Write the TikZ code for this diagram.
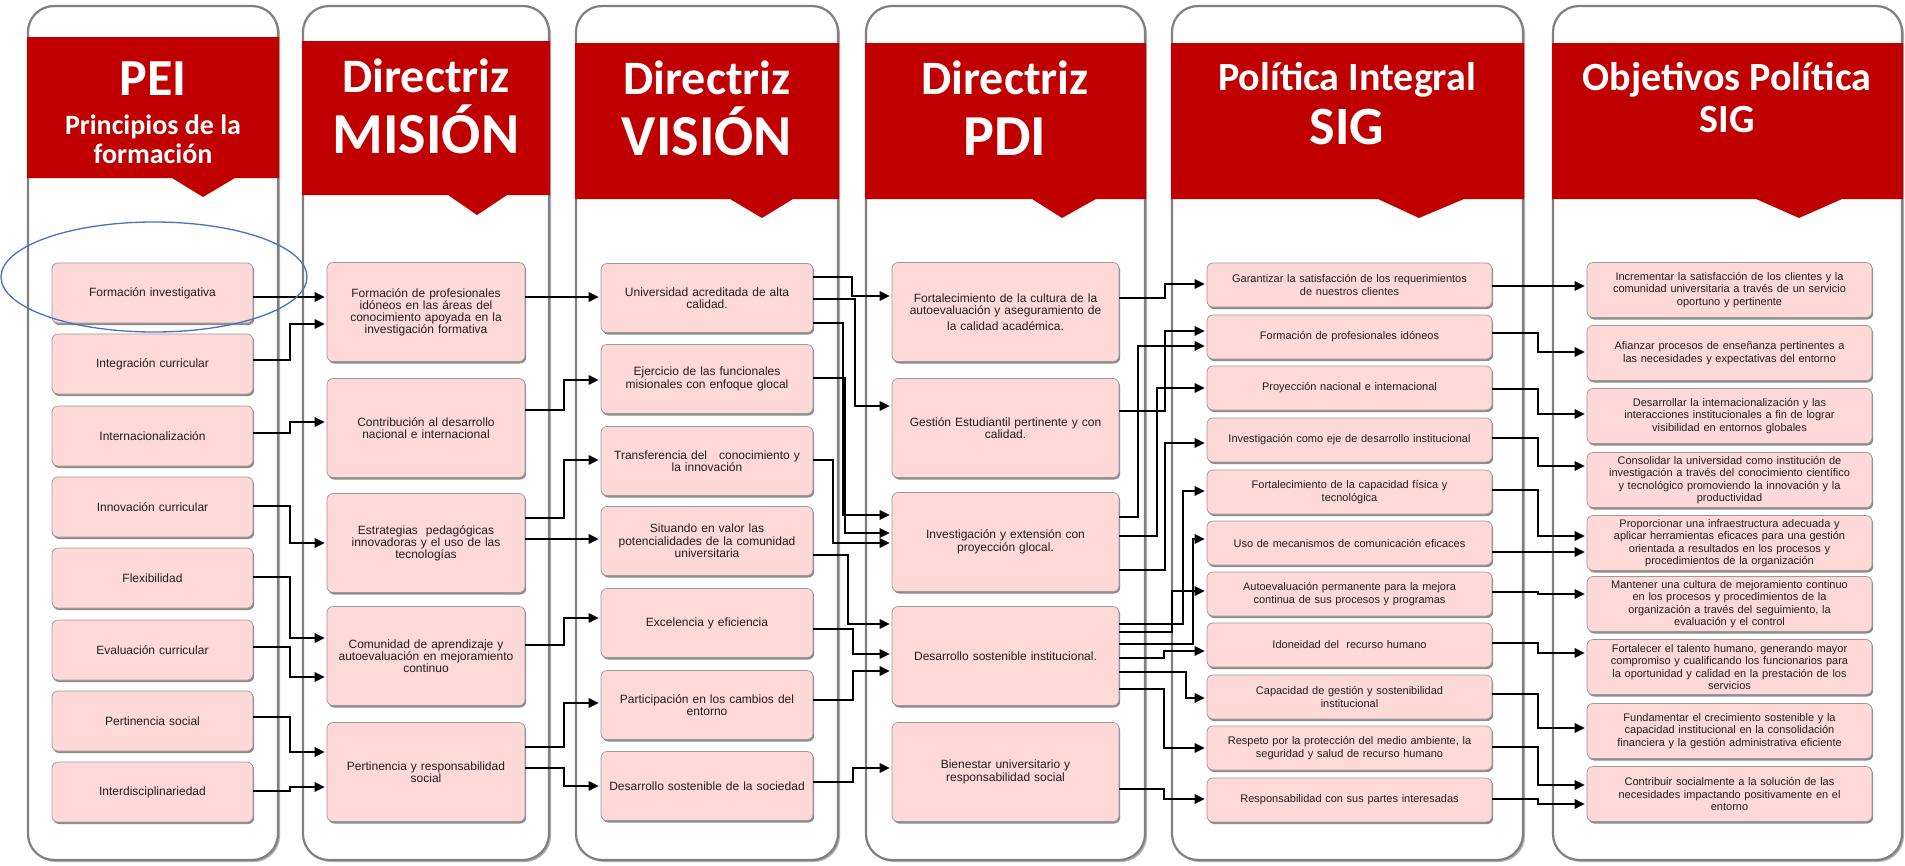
\documentclass[tikz,border=0pt]{standalone}
\usepackage{fontspec}
\setmainfont{Liberation Sans}
\newfontfamily\hdrfont{Carlito}
\usetikzlibrary{arrows.meta,shadows,shapes.geometric}
\definecolor{hdrred}{RGB}{192,0,0}
\definecolor{boxpink}{RGB}{255,216,216}
\definecolor{ellblue}{RGB}{68,114,196}
\begin{document}
\begin{tikzpicture}[x=1pt,y=-1pt,
  panel/.style={fill=white, draw=black!50, line width=2.2pt, rounded corners=26pt,
    drop shadow={shadow xshift=2pt, shadow yshift=-2pt, fill=black!50, opacity=0.6}},
  hdr/.style={fill=hdrred, draw=none},
  htxt/.style={text=white, anchor=base, inner sep=0pt},
  box/.style={draw=black!40, line width=0.7pt, fill=boxpink, rounded corners=6pt,
    drop shadow={shadow xshift=1.2pt, shadow yshift=-2pt, fill=black!60, opacity=0.75},
    align=center, inner sep=2pt, text=black!88},
  cola/.style={box, minimum width=201pt, minimum height=60pt, text width=196pt, font=\fontsize{12}{12.5}\selectfont},
  colb/.style={box, minimum width=198pt, minimum height=99pt, text width=194pt, font=\fontsize{12}{12}\selectfont},
  colc/.style={box, minimum width=212pt, minimum height=69pt, text width=208pt, font=\fontsize{12}{12.5}\selectfont},
  cold/.style={box, minimum width=227pt, minimum height=99pt, text width=223pt, font=\fontsize{12}{12.5}\selectfont},
  cole/.style={box, minimum width=285pt, minimum height=44pt, text width=281pt, font=\fontsize{11}{12.3}\selectfont},
  colf/.style={box, minimum width=285pt, minimum height=55pt, text width=281pt, font=\fontsize{11}{12.3}\selectfont},
  arr/.style={-{Triangle[length=10pt,width=9.5pt]}, line width=1.6pt, black, shorten >=2pt},
  hl/.style={draw=ellblue, line width=1.3pt, ellipse, fill=none}
]
\useasboundingbox (0,0) rectangle (1905,865);
\fill[white] (0,0) rectangle (1905,865);

% panels
\path[panel] (28,6) rectangle (278,860);
\path[panel] (303,6) rectangle (549,860);
\path[panel] (576,6) rectangle (838,860);
\path[panel] (866,6) rectangle (1145,860);
\path[panel] (1172,6) rectangle (1523,860);
\path[panel] (1553,6) rectangle (1902,860);

% headers
\fill[hdr] (27,37) -- (279,37) -- (279,178) -- (235,178) -- (203,197) -- (172,178) -- (27,178) -- cycle;
\fill[hdr] (302,41) -- (550,41) -- (550,195) -- (507,195) -- (477,215) -- (448,195) -- (302,195) -- cycle;
\fill[hdr] (575,43) -- (839,43) -- (839,199) -- (793,199) -- (762,218) -- (730,199) -- (575,199) -- cycle;
\fill[hdr] (865,43) -- (1146,43) -- (1146,199) -- (1096,199) -- (1062,218) -- (1032,199) -- (865,199) -- cycle;
\fill[hdr] (1171,43) -- (1524,43) -- (1524,199) -- (1464,199) -- (1419,218) -- (1378,199) -- (1171,199) -- cycle;
\fill[hdr] (1552,43) -- (1903,43) -- (1903,199) -- (1842,199) -- (1799,218) -- (1756,199) -- (1552,199) -- cycle;

% header texts
\node[htxt, font=\hdrfont\bfseries\fontsize{52}{52}\selectfont] (t1a) at (153,95) {PEI};
\node[htxt, font=\hdrfont\bfseries\fontsize{28}{28}\selectfont] (t1b) at (153,134) {Principios de la};
\node[htxt, font=\hdrfont\bfseries\fontsize{28}{28}\selectfont] (t1c) at (153,163) {formación};
\node[htxt, font=\hdrfont\bfseries\fontsize{48}{48}\selectfont] (t2a) at (426,92) {Directriz};
\node[htxt, font=\hdrfont\bfseries\fontsize{58}{58}\selectfont] (t2b) at (426,153) {MISIÓN};
\node[htxt, font=\hdrfont\bfseries\fontsize{48}{48}\selectfont] (t3a) at (707,94) {Directriz};
\node[htxt, font=\hdrfont\bfseries\fontsize{58}{58}\selectfont] (t3b) at (707,155) {VISIÓN};
\node[htxt, font=\hdrfont\bfseries\fontsize{48}{48}\selectfont] (t4a) at (1005,94) {Directriz};
\node[htxt, font=\hdrfont\bfseries\fontsize{58}{58}\selectfont] (t4b) at (1005,155) {PDI};
\node[htxt, font=\hdrfont\bfseries\fontsize{40}{40}\selectfont] (t5a) at (1347,90) {Política Integral};
\node[htxt, font=\hdrfont\bfseries\fontsize{54}{54}\selectfont] (t5b) at (1347,144) {SIG};
\node[htxt, font=\hdrfont\bfseries\fontsize{40}{40}\selectfont] (t6a) at (1727,90) {Objetivos Política};
\node[htxt, font=\hdrfont\bfseries\fontsize{40}{40}\selectfont] (t6b) at (1727,132) {SIG};

% column 1
\node[cola] (a1) at (152.5,293) {Formación investigativa};
\node[cola] (a2) at (152.5,364) {Integración curricular};
\node[cola] (a3) at (152.5,436) {Internacionalización};
\node[cola] (a4) at (152.5,507) {Innovación curricular};
\node[cola] (a5) at (152.5,578) {Flexibilidad};
\node[cola] (a6) at (152.5,650) {Evaluación curricular};
\node[cola] (a7) at (152.5,721) {Pertinencia social};
\node[cola] (a8) at (152.5,792) {Interdisciplinariedad};

% column 2
\node[colb] (b1) at (426,312) {Formación de profesionales\\ idóneos en las áreas del\\ conocimiento apoyada en la\\ investigación formativa};
\node[colb] (b2) at (426,428) {Contribución al desarrollo\\ nacional e internacional};
\node[colb] (b3) at (426,543) {Estrategias\ \ pedagógicas\\ innovadoras y el uso de las\\ tecnologías};
\node[colb] (b4) at (426,656) {Comunidad de aprendizaje y\\ autoevaluación en mejoramiento\\ continuo};
\node[colb] (b5) at (426,772) {Pertinencia y responsabilidad\\ social};

% column 3
\node[colc] (c1) at (707,298) {Universidad acreditada de alta\\ calidad.};
\node[colc] (c2) at (707,379) {Ejercicio de las funcionales\\ misionales con enfoque glocal};
\node[colc] (c3) at (707,461) {Transferencia del\ \ \ conocimiento y\\ la innovación};
\node[colc] (c4) at (707,541) {Situando en valor las\\ potencialidades de la comunidad\\ universitaria};
\node[colc] (c5) at (707,623) {Excelencia y eficiencia};
\node[colc] (c6) at (707,705) {Participación en los cambios del\\ entorno};
\node[colc] (c7) at (707,786) {Desarrollo sostenible de la sociedad};

% column 4
\node[cold] (d1) at (1005.5,312) {Fortalecimiento de la cultura de la\\ autoevaluación y aseguramiento de\\[3pt] la calidad académica.};
\node[cold] (d2) at (1005.5,428) {Gestión Estudiantil pertinente y con\\ calidad.};
\node[cold] (d3) at (1005.5,542) {Investigación y extensión con\\ proyección glocal.};
\node[cold] (d4) at (1005.5,656) {Desarrollo sostenible institucional.};
\node[cold] (d5) at (1005.5,772) {Bienestar universitario y\\ responsabilidad social};

% column 5
\node[cole] (e1) at (1349.5,285) {Garantizar la satisfacción de los requerimientos\\ de nuestros clientes};
\node[cole] (e2) at (1349.5,337) {Formación de profesionales idóneos};
\node[cole] (e3) at (1349.5,388) {Proyección nacional e internacional};
\node[cole] (e4) at (1349.5,440) {Investigación como eje de desarrollo institucional};
\node[cole] (e5) at (1349.5,492) {Fortalecimiento de la capacidad física y\\ tecnológica};
\node[cole] (e6) at (1349.5,543) {Uso de mecanismos de comunicación eficaces};
\node[cole] (e7) at (1349.5,594) {Autoevaluación permanente para la mejora\\ continua de sus procesos y programas};
\node[cole] (e8) at (1349.5,645) {Idoneidad del\ \ recurso humano};
\node[cole] (e9) at (1349.5,697) {Capacidad de gestión y sostenibilidad\\ institucional};
\node[cole] (e10) at (1349.5,748) {Respeto por la protección del medio ambiente, la\\ seguridad y salud de recurso humano};
\node[cole] (e11) at (1349.5,800) {Responsabilidad con sus partes interesadas};

% column 6
\node[colf] (f1) at (1729.5,290) {Incrementar la satisfacción de los clientes y la\\ comunidad universitaria a través de un servicio\\ oportuno y pertinente};
\node[colf] (f2) at (1729.5,353) {Afianzar procesos de enseñanza pertinentes a\\ las necesidades y expectativas del entorno};
\node[colf] (f3) at (1729.5,416) {Desarrollar la internacionalización y las\\ interacciones institucionales a fin de lograr\\ visibilidad en entornos globales};
\node[colf] (f4) at (1729.5,480) {Consolidar la universidad como institución de\\ investigación a través del conocimiento científico\\ y tecnológico promoviendo la innovación y la\\ productividad};
\node[colf] (f5) at (1729.5,543) {Proporcionar una infraestructura adecuada y\\ aplicar herramientas eficaces para una gestión\\ orientada a resultados en los procesos y\\ procedimientos de la organización};
\node[colf] (f6) at (1729.5,604) {Mantener una cultura de mejoramiento continuo\\ en los procesos y procedimientos de la\\ organización a través del seguimiento, la\\ evaluación y el control};
\node[colf] (f7) at (1729.5,667) {Fortalecer el talento humano, generando mayor\\ compromiso y cualificando los funcionarios para\\ la oportunidad y calidad en la prestación de los\\ servicios};
\node[colf] (f8) at (1729.5,731) {Fundamentar el crecimiento sostenible y la\\ capacidad institucional en la consolidación\\ financiera y la gestión administrativa eficiente};
\node[colf] (f9) at (1729.5,794) {Contribuir socialmente a la solución de las\\ necesidades impactando positivamente en el\\ entorno};

% col1 -> col2
\draw[arr] (a1.east |- 0,297) -- (b1.west |- 0,297);
\draw[arr] (a2.east |- 0,360) -| (290,324) -- (b1.west |- 0,324);
\draw[arr] (a3.east |- 0,433) -| (290,422) -- (b2.west |- 0,422);
\draw[arr] (a4.east |- 0,506) -| (290,543) -- (b3.west |- 0,543);
\draw[arr] (a5.east |- 0,577) -| (290,638) -- (b4.west |- 0,638);
\draw[arr] (a6.east |- 0,647) -| (290,677) -- (b4.west |- 0,677);
\draw[arr] (a7.east |- 0,717) -| (290,752) -- (b5.west |- 0,752);
\draw[arr] (a8.east |- 0,791) -| (290,787) -- (b5.west |- 0,787);

% col2 -> col3
\draw[arr] (b1.east |- 0,297) -- (c1.west |- 0,297);
\draw[arr] (b2.east |- 0,410) -| (564,380) -- (c2.west |- 0,380);
\draw[arr] (b3.east |- 0,518) -| (564,460) -- (c3.west |- 0,460);
\draw[arr] (b3.east |- 0,539) -- (c4.west |- 0,539);
\draw[arr] (b4.east |- 0,645) -| (564,618) -- (c5.west |- 0,618);
\draw[arr] (b5.east |- 0,747) -| (564,703) -- (c6.west |- 0,703);
\draw[arr] (b5.east |- 0,768) -| (564,786) -- (c7.west |- 0,786);

% col3 -> col4
\draw[arr] (c1.east |- 0,277) -| (852,296) -- (d1.west |- 0,296);
\draw[arr] (c1.east |- 0,299) -| (855,406) -- (d2.west |- 0,406);
\draw[arr] (c1.east |- 0,323) -| (843,515) -- (d3.west |- 0,515);
\draw[arr] (c2.east |- 0,378) -| (845,533) -- (d3.west |- 0,533);
\draw[arr] (c3.east |- 0,460) -| (833,543) -- (d3.west |- 0,543);
\draw[arr] (c4.east |- 0,555) -| (848,624) -- (d4.west |- 0,624);
\draw[arr] (c5.east |- 0,629) -| (853,654) -- (d4.west |- 0,654);
\draw[arr] (c6.east |- 0,700) -| (853,671) -- (d4.west |- 0,671);
\draw[arr] (c7.east |- 0,782) -| (853,768) -- (d5.west |- 0,768);

% col4 -> col5
\draw[arr] (d1.east |- 0,298) -| (1165,284) -- (e1.west |- 0,284);
\draw[arr] (d2.east |- 0,411) -| (1165,331) -- (e2.west |- 0,331);
\draw[arr] (d3.east |- 0,517) -| (1138,346) -- (e2.west |- 0,346);
\draw[arr] (d3.east |- 0,536) -| (1157,388) -- (e3.west |- 0,388);
\draw[arr] (d3.east |- 0,570) -| (1165,443) -- (e4.west |- 0,443);
\draw[arr] (d4.east |- 0,624) -| (1183,491) -- (e5.west |- 0,491);
\draw[arr] (d4.east |- 0,632) -| (1172,591) -- (e7.west |- 0,591);
\draw[arr] (d4.east |- 0,644) -| (1193,539) -- (e6.west |- 0,539);
\draw[arr] (d4.east |- 0,658) -| (1164,651) -- (e8.west |- 0,651);
\draw[arr] (d4.east |- 0,672) -| (1186,698) -- (e9.west |- 0,698);
\draw[arr] (d4.east |- 0,689) -| (1164,748) -- (e10.west |- 0,748);
\draw[arr] (d5.east |- 0,789) -| (1164,799) -- (e11.west |- 0,799);

% col5 -> col6
\draw[arr] (e1.east |- 0,286) -- (f1.west |- 0,286);
\draw[arr] (e2.east |- 0,333) -| (1538,352) -- (f2.west |- 0,352);
\draw[arr] (e3.east |- 0,389) -| (1538,414) -- (f3.west |- 0,414);
\draw[arr] (e4.east |- 0,438) -| (1538,466) -- (f4.west |- 0,466);
\draw[arr] (e5.east |- 0,490) -| (1538,536) -- (f5.west |- 0,536);
\draw[arr] (e6.east |- 0,552) -- (f5.west |- 0,552);
\draw[arr] (e7.east |- 0,592) -| (1538,594) -- (f6.west |- 0,594);
\draw[arr] (e8.east |- 0,643) -| (1538,653) -- (f7.west |- 0,653);
\draw[arr] (e9.east |- 0,694) -| (1538,728) -- (f8.west |- 0,728);
\draw[arr] (e10.east |- 0,747) -| (1538,785) -- (f9.west |- 0,785);
\draw[arr] (e11.east |- 0,799) -| (1538,804) -- (f9.west |- 0,804);

% highlight ellipse
\node[hl, minimum width=306pt, minimum height=110pt, inner sep=0pt] (ring) at (154,277) {};
\end{tikzpicture}
\end{document}
